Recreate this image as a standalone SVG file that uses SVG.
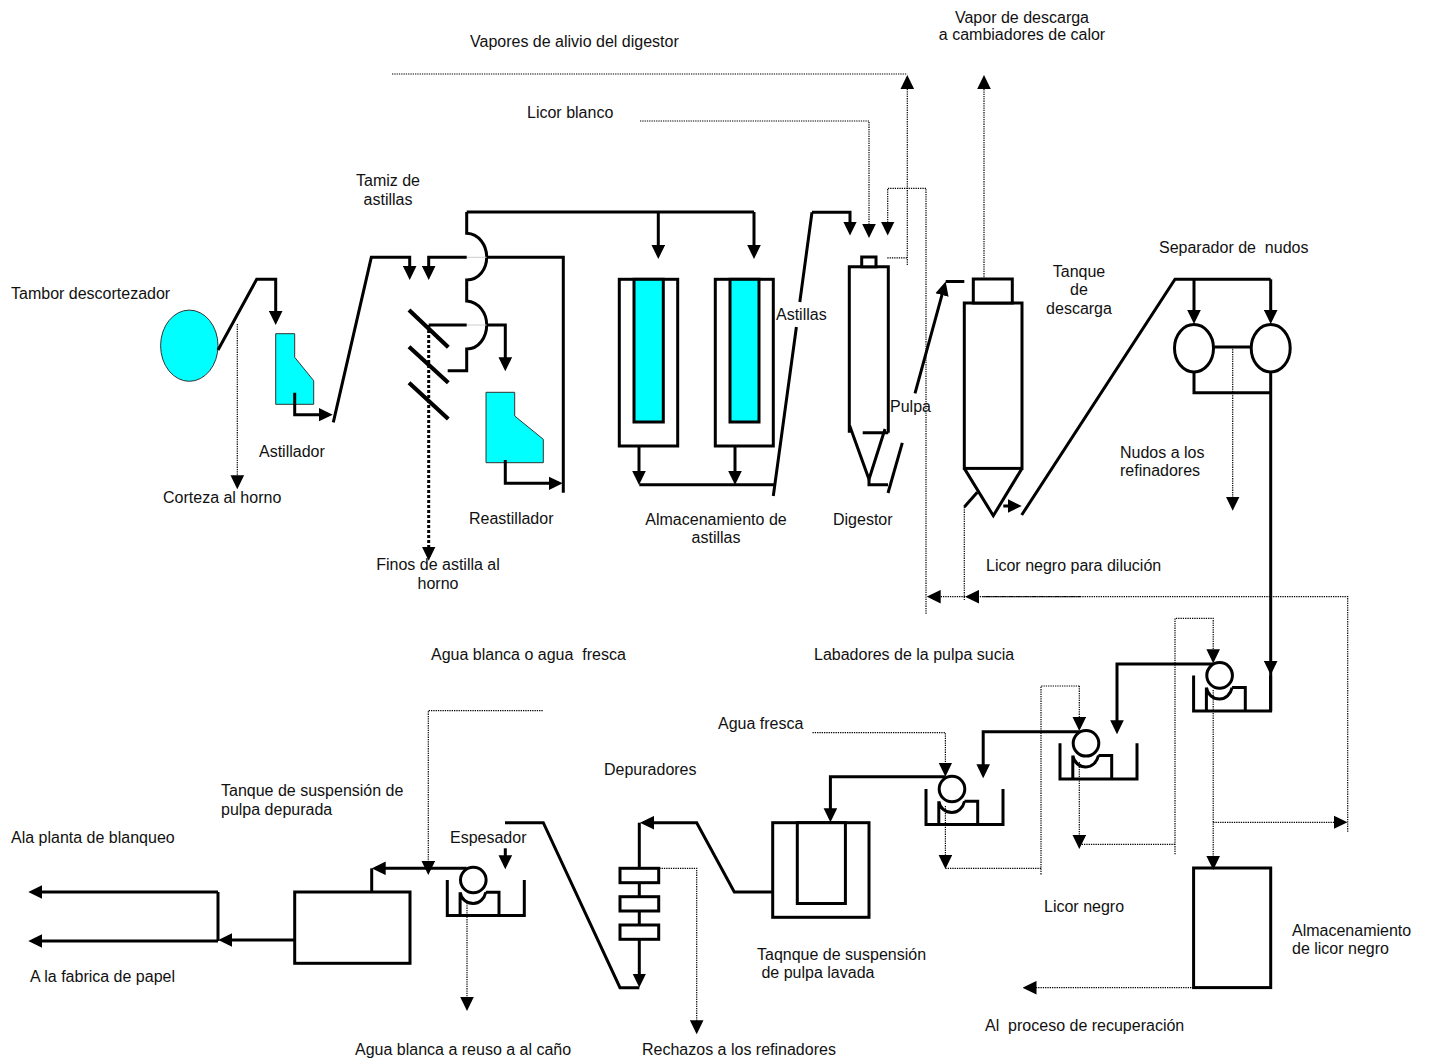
<svg xmlns="http://www.w3.org/2000/svg" width="1430" height="1061" viewBox="0 0 1430 1061">
<style>
text{font-family:"Liberation Sans",Arial,sans-serif;font-size:16px;fill:#111;white-space:pre}
.m{text-anchor:middle}
.s{fill:none;stroke:#000;stroke-width:3;stroke-linejoin:miter}
.b{fill:none;stroke:#000;stroke-width:4.2}
.w{fill:#fff;stroke:#000;stroke-width:3}
.c{fill:#0ff;stroke:#333;stroke-width:1}
.ci{fill:#0ff;stroke:#000;stroke-width:3}
.a{fill:none;stroke:#000;stroke-width:3;marker-end:url(#ah)}
.l{fill:none;stroke:#000;stroke-width:3}
.d{fill:none;stroke:#000;stroke-width:1.2;stroke-dasharray:1.3 1}
.da{fill:none;stroke:#000;stroke-width:1.2;stroke-dasharray:1.3 1;marker-end:url(#ah)}
.t{fill:none;stroke:#000;stroke-width:3;stroke-dasharray:3 2;marker-end:url(#ah)}
.g{stroke:#ccc;stroke-width:1;fill:none}
</style>
<defs>
<marker id="ah" markerUnits="userSpaceOnUse" markerWidth="14" markerHeight="14" viewBox="0 0 14 14" refX="10" refY="7" orient="auto"><path d="M0 0.2L14 7L0 13.8Z" fill="#000"/></marker>
<g id="washer">
<path class="s" d="M0 0V35.6H77V0"/>
<path class="s" d="M12.8 35.6V12.2M38.5 12.2H51.7V35.6M12.8 12.2C14 19 19 23.6 26 23.6C32 23.6 37 19 38.5 12.2"/>
<circle class="w" cx="26" cy="0" r="12.8"/>
</g>
</defs>

<g id="tambor"><ellipse class="c" cx="189.3" cy="345.7" rx="28.7" ry="35.6"/></g>
<g id="astillador"><path class="c" d="M275.7 333.7H294.7V357.3L313.7 380.7V404.3H275.7Z"/></g>
<g id="reastillador"><path class="c" d="M486 392.3H514.7V416L543.3 439.3V462.7H486Z"/></g>
<g id="tamiz">
<path class="b" d="M409 310L448.3 347.3M409 346.7L448.3 382.7M409 382.7L448.3 419"/>
<path class="s" d="M466.7 212V233.3C479 234 486.7 245 486.7 257.3C486.7 269 479 280 466.7 280V301C479 302 486.7 313 486.7 325C486.7 337 479 349 466.7 349V370.7H447.7"/>
<path class="g" d="M466.7 257.3H486.7M466.7 325H486.7"/>
</g>
<g id="silo1"><rect class="w" x="619.3" y="279.3" width="58.4" height="166.7"/><rect class="ci" x="634" y="279.3" width="29.3" height="142.7"/></g>
<g id="silo2"><rect class="w" x="715.3" y="279.3" width="58" height="166.7"/><rect class="ci" x="730" y="279.3" width="29" height="142.7"/></g>
<g id="digestor">
<path class="s" d="M849.3 432.8V266.8H888.3V432.8M862.7 432.8H888.3M849.6 425.6L869 479.3L885 429"/>
<rect class="w" x="861.7" y="257" width="14.3" height="9.8"/>
</g>
<g id="tanque-descarga">
<rect class="w" x="964.3" y="303" width="57.7" height="165.4"/>
<rect class="w" x="973.3" y="279" width="39" height="24"/>
<path class="s" d="M964.3 468.4L993.3 515.7L1022 468.4"/>
</g>
<g id="separador">
<ellipse class="w" cx="1194" cy="348.3" rx="19.5" ry="23.7"/>
<ellipse class="w" cx="1270.7" cy="348.3" rx="19.5" ry="23.7"/>
</g>
<g id="lavador1"><use href="#washer" x="1193.6" y="675.4"/></g>
<g id="lavador2"><use href="#washer" x="1060" y="743.3"/></g>
<g id="lavador3"><use href="#washer" x="926" y="789"/></g>
<g id="espesador"><use href="#washer" x="447.3" y="880"/></g>
<g id="almacen-licor"><rect class="w" x="1193.6" y="868" width="77.1" height="119.6"/></g>
<g id="tanque-lavada"><rect class="w" x="772.7" y="822.7" width="96.3" height="94.6"/><rect class="w" x="797.3" y="822.7" width="48.1" height="80.8"/></g>
<g id="tanque-depurada"><rect class="w" x="294.7" y="892" width="115.3" height="71.3"/></g>
<g id="depuradores">
<path class="s" d="M639.3 882.7V896.7M639.3 911V925"/>
<rect class="w" x="620" y="868.3" width="38.7" height="14.4"/>
<rect class="w" x="620" y="896.7" width="38.7" height="14.3"/>
<rect class="w" x="620" y="925" width="38.7" height="14.3"/>
</g>

<g id="connectors">
<path class="a" d="M218 350L256.7 279.3H275.7V321"/>
<path class="a" d="M294.7 392.7V414.7H328.7"/>
<path class="a" d="M333.3 422.3L371.3 257.3H409.7V276"/>
<path class="a" d="M466.7 257.3H428.7V276"/>
<path class="l" d="M486.7 257.3H563.3V492.7"/>
<path class="l" d="M428.7 325H466.7"/>
<path class="a" d="M486.7 325H505.3V367.3"/>
<path class="a" d="M505.3 460V483.3H558.7"/>
<path class="l" d="M466.7 212H754"/>
<path class="a" d="M658.3 212V255"/>
<path class="a" d="M754 212V255"/>
<path class="a" d="M639 446V481"/>
<path class="a" d="M735 446V481"/>
<path class="l" d="M639.3 484.7H774"/>
<path class="l" d="M773.3 496L796.4 327M799.8 302L812 212.3"/>
<path class="a" d="M812 212.3H850V231.6"/>
<path class="l" d="M869 479.3V484.7H888"/>
<path class="l" d="M888 493L902.3 442.8"/>
<path class="a" d="M915 393.3L944.6 285.4"/>
<path class="l" d="M945.7 281.5H964.3"/>
<path class="l" d="M964.3 507L977.3 492.3"/>
<path class="a" d="M1003.3 506H1017.7"/>
<path class="l" d="M1021.7 515L1175 279.3H1270.7"/>
<path class="a" d="M1194 279.3V320"/>
<path class="a" d="M1270.7 279.3V320"/>
<path class="l" d="M1214.3 347H1250.7"/>
<path class="l" d="M1194 372V392.7H1270.7"/>
<path class="a" d="M1270.7 372V671"/>
<path class="l" d="M1270.7 671V711"/>
<path class="a" d="M1213.2 664H1117V730.3"/>
<path class="a" d="M1079.3 731.7H983.2V774.3"/>
<path class="a" d="M945.4 776.7H830.4V818.3"/>
<path class="a" d="M772.7 892H734.3L696.7 822.7H644"/>
<path class="l" d="M639.3 822.7V868"/>
<path class="a" d="M639.3 939V983.5"/>
<path class="l" d="M639.3 987.7H620L543.3 822.7H505"/>
<path class="a" d="M505.3 848.3V865.3"/>
<path class="a" d="M466.7 868.3H375.7"/>
<path class="l" d="M371.7 868.3V892"/>
<path class="a" d="M294.7 940H222.3"/>
<path class="l" d="M218 892V941"/>
<path class="a" d="M218 892H32.3"/>
<path class="a" d="M218 941H32.3"/>

<path class="da" d="M237.3 324V485.3"/>
<path class="t" d="M428.7 325V556.7"/>
<path class="d" d="M392 74H907.3"/>
<path class="da" d="M907.3 265V79"/>
<path class="d" d="M887.3 257.8H907.3"/>
<path class="da" d="M640 121H869V234"/>
<path class="da" d="M926 613.8V188.3H887.7V231.6"/>
<path class="da" d="M984 279V79"/>
<path class="d" d="M964.3 507V600"/>
<path class="da" d="M1232.7 347V506.7"/>
<path class="d" d="M1347.7 831.7V596.7H982"/>
<path class="da" d="M1080 596.7H969"/>
<path class="da" d="M965 596.7H930.7"/>
<path class="da" d="M1175 854.3V618.3H1213.2V659.3"/>
<path class="d" d="M1175 844.3H1079.3"/>
<path class="d" d="M1079.3 686H1041V875"/>
<path class="da" d="M1079.3 686V727"/>
<path class="da" d="M1079.3 762V845"/>
<path class="d" d="M1041 868.3H945.4"/>
<path class="da" d="M812.5 732.7H945.4V772.7"/>
<path class="da" d="M945.4 806V865"/>
<path class="da" d="M1213.2 690V866"/>
<path class="da" d="M1213.2 822.3H1343.5"/>
<path class="da" d="M1193.6 987.7H1026.5"/>
<path class="da" d="M659.3 868.3H696.7V1030.3"/>
<path class="da" d="M467 903V1007"/>
<path class="da" d="M542.7 710.7H428.3V871"/>
</g>

<g id="labels" transform="translate(0 1)">
<text class="m" x="1022" y="22">Vapor de descarga</text>
<text class="m" x="1022" y="39">a cambiadores de calor</text>
<text x="470" y="46">Vapores de alivio del digestor</text>
<text x="527" y="117">Licor blanco</text>
<text class="m" x="388" y="185">Tamiz de</text>
<text class="m" x="388" y="204">astillas</text>
<text x="11" y="298">Tambor descortezador</text>
<text x="1159" y="252">Separador de  nudos</text>
<text class="m" x="1079" y="276">Tanque</text>
<text class="m" x="1079" y="294">de</text>
<text class="m" x="1079" y="313">descarga</text>
<text x="776" y="319">Astillas</text>
<text x="259" y="456">Astillador</text>
<text x="163" y="502">Corteza al horno</text>
<text x="890" y="411">Pulpa</text>
<text x="1120" y="457">Nudos a los</text>
<text x="1120" y="475">refinadores</text>
<text x="469" y="523">Reastillador</text>
<text class="m" x="716" y="524">Almacenamiento de</text>
<text class="m" x="716" y="542">astillas</text>
<text x="833" y="524">Digestor</text>
<text x="986" y="570">Licor negro para dilución</text>
<text class="m" x="438" y="569">Finos de astilla al</text>
<text class="m" x="438" y="588">horno</text>
<text x="431" y="659">Agua blanca o agua  fresca</text>
<text x="814" y="659">Labadores de la pulpa sucia</text>
<text x="718" y="728">Agua fresca</text>
<text x="604" y="774">Depuradores</text>
<text x="221" y="795">Tanque de suspensión de</text>
<text x="221" y="814">pulpa depurada</text>
<text x="11" y="842">Ala planta de blanqueo</text>
<text x="450" y="842">Espesador</text>
<text x="1044" y="911">Licor negro</text>
<text x="757" y="959">Taqnque de suspensión</text>
<text x="757" y="977"> de pulpa lavada</text>
<text x="1292" y="935">Almacenamiento</text>
<text x="1292" y="953">de licor negro</text>
<text x="30" y="981">A la fabrica de papel</text>
<text x="985" y="1030">Al  proceso de recuperación</text>
<text x="355" y="1054">Agua blanca a reuso a al caño</text>
<text x="642" y="1054">Rechazos a los refinadores</text>
</g>
</svg>
